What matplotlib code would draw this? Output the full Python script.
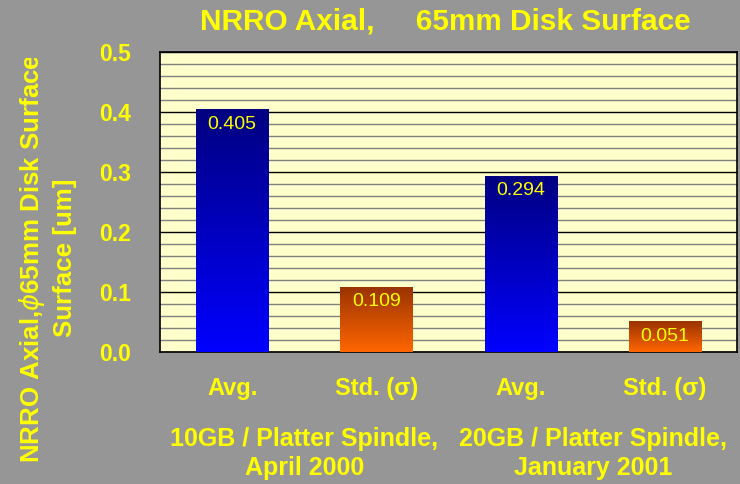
import numpy as np
import matplotlib.pyplot as plt
from matplotlib.colors import LinearSegmentedColormap
from matplotlib.transforms import Bbox, TransformedBbox

plt.rcParams['font.family'] = ['Liberation Sans', 'DejaVu Sans']

# data
categories = ['Avg.', 'Std. (σ)', 'Avg.', 'Std. (σ)']
values = [0.405, 0.109, 0.294, 0.051]
value_labels = ['0.405', '0.109', '0.294', '0.051']
groups = ['10GB / Platter Spindle,\nApril 2000', '20GB / Platter Spindle,\nJanuary 2001']
yticks = [0.0, 0.1, 0.2, 0.3, 0.4, 0.5]

yellow = '#FFFF00'
bg = '#969696'
blue_cmap = LinearSegmentedColormap.from_list('b', ['#0000FF', '#000080'])
orange_cmap = LinearSegmentedColormap.from_list('o', ['#FF6600', '#993300'])

fig = plt.figure(figsize=(7.4, 4.84), dpi=100, facecolor=bg)
ax = fig.add_axes([160 / 740, 1 - 352 / 484, 577 / 740, 300 / 484])
ax.set_facecolor('#FFFFCC')

x = np.arange(len(values))
bars = ax.bar(x, values, width=0.5, color='none', zorder=3)
ax.set_xlim(-0.5, 3.5)
ax.set_ylim(0, 0.5)

grad = np.linspace(0, 1, 256).reshape(-1, 1)
for i, (b, v) in enumerate(zip(bars, values)):
    cmap = blue_cmap if i % 2 == 0 else orange_cmap
    im = ax.imshow(grad, cmap=cmap, origin='lower', aspect='auto',
                   extent=[b.get_x(), b.get_x() + b.get_width(), 0, v], zorder=3)
    im.set_clip_path(b)
    ax.text(b.get_x() + b.get_width() / 2, v - 0.011, value_labels[i],
            ha='center', va='top', color=yellow, fontsize=14, zorder=4)

# grid
for y in np.arange(0, 0.5001, 0.02):
    major = abs(y * 10 - round(y * 10)) < 1e-6
    ax.axhline(y, color='black' if major else '#808080', lw=1.0, zorder=1)

ax.set_yticks(yticks)
ax.set_yticklabels([f'{t:.1f}' for t in yticks], color=yellow, fontsize=16.5,
                   fontweight='bold')
ax.tick_params(axis='y', length=0, pad=21)
ax.set_xticks(x)
ax.set_xticklabels(categories, color=yellow, fontsize=17, fontweight='bold')
ax.tick_params(axis='x', length=0, pad=18)
for s in ax.spines.values():
    s.set_color('black')
    s.set_linewidth(1.2)

for gi, g in enumerate(groups):
    xc = (x[2 * gi] + x[2 * gi + 1]) / 2
    ax.text(xc, -0.25, g, transform=ax.get_xaxis_transform(), ha='center', va='top',
            color=yellow, fontsize=18, fontweight='bold', linespacing=1.25)

fig.text(445 / 740, 1 - 21 / 484, 'NRRO Axial,     65mm Disk Surface', ha='center',
         va='center', color=yellow, fontsize=21.4, fontweight='bold')

yl = fig.text(47 / 740, 1 - 258 / 484, 'NRRO Axial,$\\phi$65mm Disk Surface\nSurface [um]',
              rotation=90, ha='center', va='center', color=yellow, fontsize=18.6,
              fontweight='bold', linespacing=1.3)
yl.set_clip_on(True)
yl.set_clip_box(TransformedBbox(Bbox([[0, 0], [1, 1 - 58 / 484]]), fig.transFigure))

fig.savefig('out.png', dpi=100, facecolor=bg)
